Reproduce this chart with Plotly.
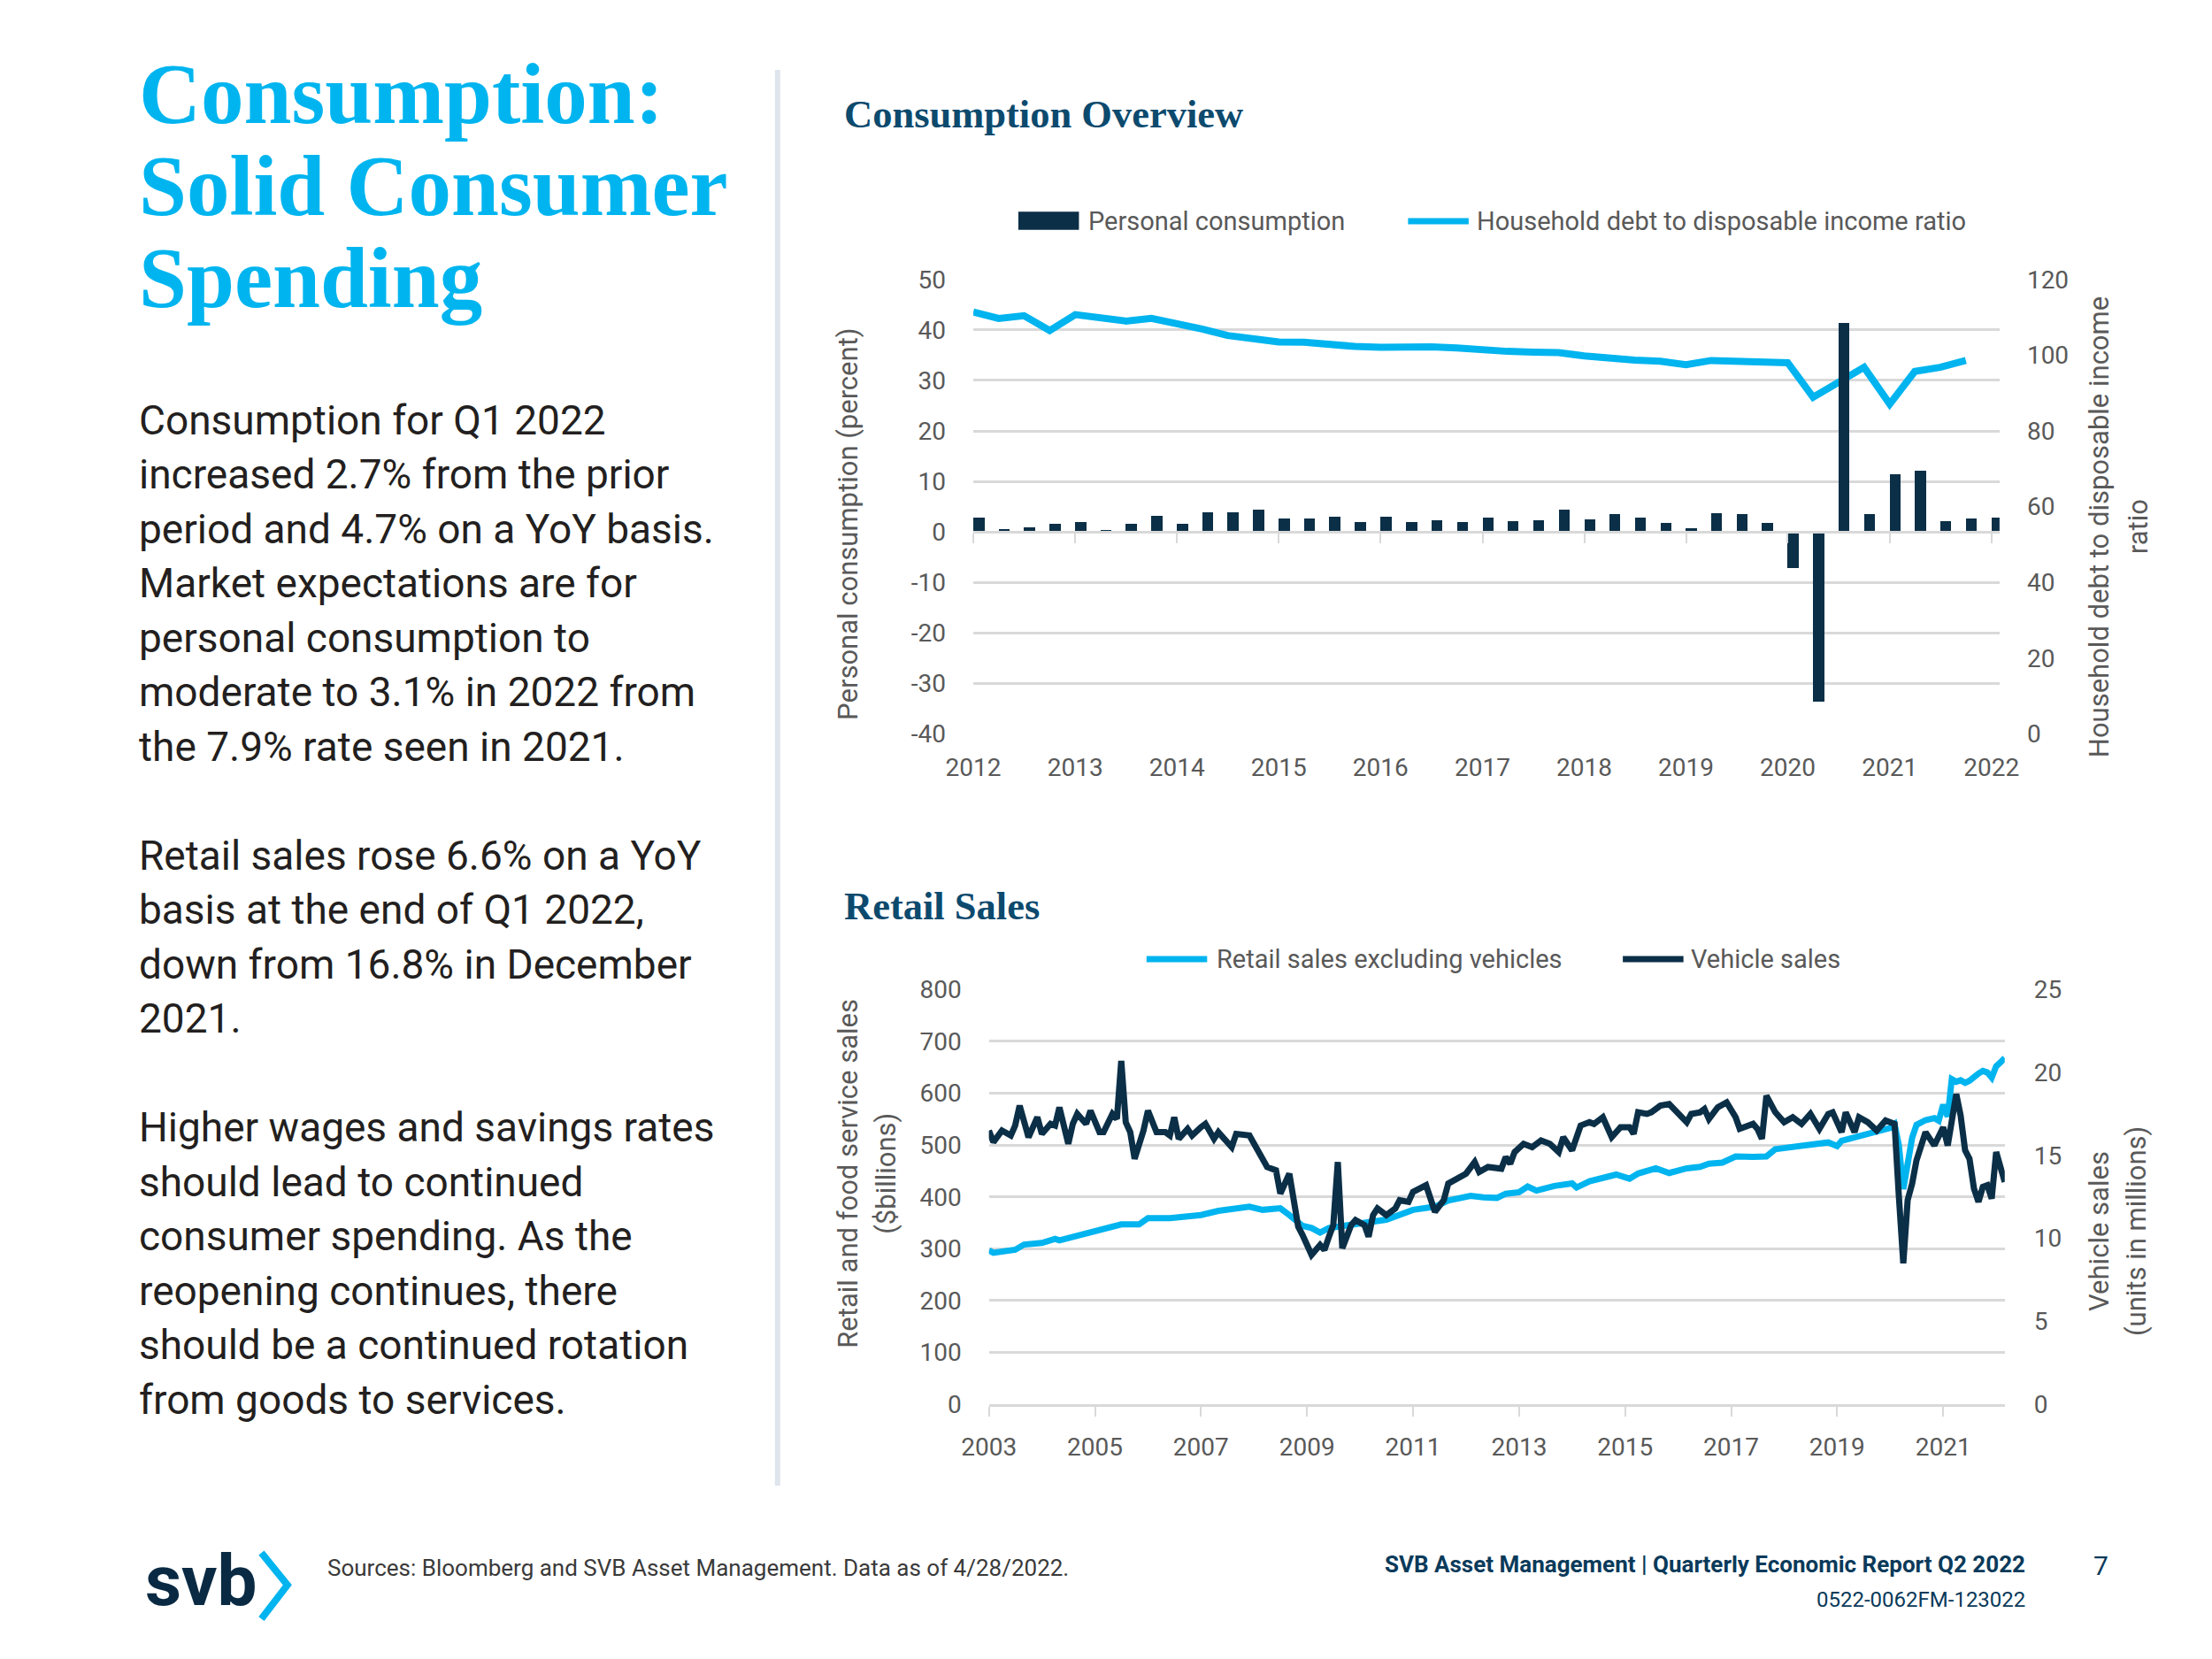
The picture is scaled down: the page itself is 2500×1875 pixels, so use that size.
import plotly.graph_objects as go

W, H = 2500, 1875
OFF = 8  # page body margin in the rendered html
def px(x): return (x - OFF) / W
def py(y): return 1 - (y - OFF) / H

NAVY = "#0b2f47"
CYAN = "#00b4ef"
TITLE_NAVY = "#0c4a6e"
GRID = "#d9d9d9"
TICK = "#595959"
FONT = "Roboto"
SERIF = "Liberation Serif"

# ---------------- data: Consumption Overview ----------------
quarters = ["2012-01-01","2012-04-01","2012-07-01","2012-10-01",
            "2013-01-01","2013-04-01","2013-07-01","2013-10-01",
            "2014-01-01","2014-04-01","2014-07-01","2014-10-01",
            "2015-01-01","2015-04-01","2015-07-01","2015-10-01",
            "2016-01-01","2016-04-01","2016-07-01","2016-10-01",
            "2017-01-01","2017-04-01","2017-07-01","2017-10-01",
            "2018-01-01","2018-04-01","2018-07-01","2018-10-01",
            "2019-01-01","2019-04-01","2019-07-01","2019-10-01",
            "2020-01-01","2020-04-01","2020-07-01","2020-10-01",
            "2021-01-01","2021-04-01","2021-07-01","2021-10-01",
            "2022-01-01"]
personal_consumption = [2.9, 0.6, 0.9, 1.6, 2.0, 0.5, 1.6, 3.2, 1.6, 3.9, 3.9, 4.5,
                        2.7, 2.7, 3.1, 2.0, 3.0, 2.0, 2.4, 2.0, 2.9, 2.1, 2.4, 4.4,
                        2.6, 3.6, 2.9, 1.9, 0.7, 3.8, 3.5, 1.9, -7.1, -33.5, 41.5, 3.6,
                        11.5, 12.2, 2.2, 2.7, 2.9]
debt_ratio = [111.4, 109.7, 110.4, 106.5, 110.7, 109.9, 109.0, 109.7, 108.4, 106.9,
              105.2, 104.2, 103.5, 103.4, 102.8, 102.3, 102.1, 102.3, 102.2, 101.9,
              101.3, 101.0, 100.8, 100.7, 99.8, 99.1, 98.7, 98.4, 97.5, 98.6,
              98.4, 98.2, 98.0, 88.9, 93.0, 96.8, 87.1, 95.7, 96.8, 98.6]
debt_quarters = quarters[:len(debt_ratio)]
pc_ticks = [-40, -30, -20, -10, 0, 10, 20, 30, 40, 50]
pc_ticktext = ["-40", "-30", "-20", "-10", "0", "10", "20", "30", "40", "50"]
debt_ticks = [0, 20, 40, 60, 80, 100, 120]

# ---------------- data: Retail Sales ----------------
retail_dates = ["2003-01","2003-02","2003-07","2003-09",
                "2004-01","2004-04","2004-05","2004-09",
                "2005-01","2005-05","2005-07","2005-11",
                "2006-01","2006-06","2006-10",
                "2007-01","2007-05","2007-10","2007-12",
                "2008-03","2008-07","2008-09","2008-12",
                "2009-02","2009-04","2009-06","2009-10",
                "2010-02","2010-06","2010-07",
                "2011-01","2011-06","2011-09",
                "2012-02","2012-05","2012-08","2012-10",
                "2013-01","2013-03","2013-05","2013-09",
                "2014-01","2014-02","2014-05","2014-11",
                "2015-02","2015-04","2015-08","2015-11",
                "2016-03","2016-06","2016-08","2016-11",
                "2017-02","2017-06","2017-09","2017-11",
                "2018-03","2018-07","2018-11",
                "2019-01","2019-02","2019-06","2019-10",
                "2020-01","2020-02","2020-03","2020-04","2020-05","2020-06","2020-07","2020-09","2020-11","2020-12",
                "2021-01","2021-02","2021-03","2021-04","2021-05","2021-06","2021-07","2021-08","2021-09","2021-10","2021-11","2021-12",
                "2022-01","2022-02","2022-03"]
retail_sales = [297, 292, 298, 308,
                311, 319, 316, 325,
                333, 340, 347, 347,
                359, 359, 362,
                365, 373, 378, 381,
                375, 378, 365, 344,
                340, 331, 340, 345,
                350, 353, 356,
                375, 381, 393,
                402, 399, 398, 406,
                409, 420, 412, 421,
                426, 418, 430, 443,
                435, 445, 455, 446,
                455, 458, 464, 466,
                478, 477, 478, 492,
                497, 502, 505,
                498, 508, 517, 526,
                533, 540, 500, 415, 470, 514, 539, 548, 552, 547,
                578, 555, 627, 622, 625, 620, 624, 632, 638, 643, 640, 630,
                652, 660, 668]

vehicle_dates = ["2003-01","2003-02","2003-04","2003-06","2003-07","2003-08","2003-10","2003-12",
                 "2004-01","2004-03","2004-04","2004-05","2004-07","2004-08","2004-09","2004-11","2004-12",
                 "2005-02","2005-03","2005-04","2005-05","2005-06","2005-07","2005-08","2005-09","2005-10","2005-12",
                 "2006-01","2006-03","2006-05","2006-06","2006-07","2006-08","2006-10","2006-11",
                 "2007-01","2007-02","2007-04","2007-05","2007-08","2007-09","2007-12",
                 "2008-02","2008-04","2008-06","2008-07","2008-09","2008-11","2008-12",
                 "2009-02","2009-04","2009-05","2009-06","2009-07","2009-08","2009-09","2009-11","2009-12",
                 "2010-02","2010-03","2010-04","2010-05","2010-07","2010-09","2010-10","2010-12",
                 "2011-01","2011-04","2011-06","2011-08","2011-09","2011-11",
                 "2012-01","2012-03","2012-04","2012-06","2012-09","2012-10","2012-11","2012-12",
                 "2013-02","2013-04","2013-06","2013-08","2013-10","2013-11",
                 "2014-01","2014-03","2014-05","2014-06","2014-08","2014-10","2014-12",
                 "2015-02","2015-03","2015-04","2015-06","2015-07","2015-09","2015-11",
                 "2016-01","2016-03","2016-04","2016-06","2016-07","2016-08","2016-10","2016-12",
                 "2017-02","2017-03","2017-06","2017-07","2017-08","2017-09","2017-11",
                 "2018-01","2018-03","2018-05","2018-07","2018-09","2018-11","2018-12",
                 "2019-02","2019-03","2019-05","2019-06","2019-08","2019-10","2019-12",
                 "2020-02","2020-03","2020-04","2020-05","2020-06","2020-07","2020-09","2020-11",
                 "2021-01","2021-02","2021-03","2021-04","2021-05","2021-06","2021-07","2021-08","2021-09","2021-10","2021-11","2021-12",
                 "2022-01","2022-02","2022-03"]
vehicle_sales = [16.5, 15.8, 16.5, 16.2, 16.8, 18.0, 16.1, 17.3,
                 16.3, 16.9, 16.8, 17.9, 15.7, 16.9, 17.5, 16.9, 17.7,
                 16.4, 16.4, 17.0, 17.5, 17.2, 20.7, 17.0, 16.4, 14.8, 16.5,
                 17.7, 16.4, 16.4, 16.2, 17.3, 16.0, 16.6, 16.2,
                 16.7, 16.9, 16.0, 16.4, 15.5, 16.3, 16.2,
                 15.3, 14.3, 14.1, 12.7, 13.9, 10.7, 10.2,
                 9.0, 9.6, 9.3, 10.1, 10.8, 14.6, 9.4, 10.8, 11.1,
                 10.8, 10.1, 11.4, 11.8, 11.4, 11.8, 12.3, 12.2,
                 12.8, 13.2, 11.6, 12.3, 13.3, 13.6,
                 13.9, 14.6, 14.0, 14.3, 14.2, 14.9, 14.5, 15.2,
                 15.7, 15.5, 15.9, 15.7, 15.2, 16.1,
                 15.3, 16.8, 17.0, 16.9, 17.3, 16.1, 16.7,
                 16.7, 16.3, 17.6, 17.5, 17.6, 18.0, 18.1,
                 17.6, 17.0, 17.5, 17.6, 17.8, 17.2, 17.9, 18.2,
                 17.3, 16.6, 16.9, 16.6, 16.0, 18.6, 17.6,
                 17.0, 17.3, 16.9, 17.5, 16.6, 17.5, 17.6,
                 16.4, 17.6, 16.4, 17.3, 17.0, 16.5, 17.1,
                 16.9, 12.6, 8.5, 12.3, 13.3, 14.7, 16.4, 15.6,
                 16.7, 15.6, 17.2, 18.7, 17.4, 15.3, 14.8, 13.0, 12.2, 13.1, 13.2, 12.4,
                 15.2, 14.2, 13.4]
retail_ticks = [0, 100, 200, 300, 400, 500, 600, 700, 800]
vehicle_ticks = [0, 5, 10, 15, 20, 25]

assert len(retail_dates) == len(retail_sales)
assert len(vehicle_dates) == len(vehicle_sales)
assert len(quarters) == len(personal_consumption)

# ---------------- layout geometry (pixels in the page) ----------------
TOP_X = (1092, 2277)
TOP_Y = (305, 828)      # top edge, bottom edge
BOT_X = (1110, 2283)
BOT_Y = (1122, 1599)

top_xdom = [px(TOP_X[0]), px(TOP_X[1])]
top_ydom = [py(TOP_Y[1]), py(TOP_Y[0])]
bot_xdom = [px(BOT_X[0]), px(BOT_X[1])]
bot_ydom = [py(BOT_Y[1]), py(BOT_Y[0])]
zero_pos = top_ydom[0] + (0 - pc_ticks[0]) / (pc_ticks[-1] - pc_ticks[0]) * (top_ydom[1] - top_ydom[0])

BAR_WIDTH_MS = 40 * 86400000

fig = go.Figure()

# Top chart: debt ratio on primary (right) axis, bars on overlay (left) so bars render above the line
fig.add_trace(go.Scatter(x=debt_quarters, y=debt_ratio, mode="lines",
                         name="Household debt to disposable income ratio",
                         line=dict(color=CYAN, width=8), xaxis="x", yaxis="y",
                         showlegend=False, hoverinfo="skip"))
fig.add_trace(go.Bar(x=quarters, y=personal_consumption, name="Personal consumption",
                     marker=dict(color=NAVY, line=dict(width=0)),
                     width=BAR_WIDTH_MS, offset=0, xaxis="x", yaxis="y2",
                     showlegend=False, hoverinfo="skip"))
# helper (empty) trace so the zero-line tick axis is drawn
fig.add_trace(go.Scatter(x=[None], y=[None], xaxis="x3", yaxis="y2", showlegend=False,
                         hoverinfo="skip"))

# Bottom chart
fig.add_trace(go.Scatter(x=retail_dates, y=retail_sales, mode="lines",
                         name="Retail sales excluding vehicles",
                         line=dict(color=CYAN, width=7), xaxis="x2", yaxis="y3",
                         showlegend=False, hoverinfo="skip"))
fig.add_trace(go.Scatter(x=vehicle_dates, y=vehicle_sales, mode="lines",
                         name="Vehicle sales",
                         line=dict(color=NAVY, width=7), xaxis="x2", yaxis="y4",
                         showlegend=False, hoverinfo="skip"))

tickfont = dict(family=FONT, size=28, color=TICK)

fig.update_layout(
    width=W, height=H,
    margin=dict(l=0, r=0, t=0, b=0),
    paper_bgcolor="white", plot_bgcolor="rgba(0,0,0,0)",
    bargap=0,
    font=dict(family=FONT, color=TICK),
    xaxis=dict(domain=top_xdom, anchor="y", type="date",
               range=["2012-01-01", "2022-01-30"], tick0="2012-01-01", dtick="M12",
               tickformat="%Y", showgrid=False, zeroline=False, showline=False,
               ticks="", tickfont=tickfont, ticklabelstandoff=18),
    xaxis3=dict(overlaying="x", anchor="free", position=zero_pos, type="date",
                range=["2012-01-01", "2022-01-30"], tick0="2012-01-01", dtick="M12",
                showgrid=False, zeroline=False, showline=True, linecolor=GRID, linewidth=3,
                ticks="outside", ticklen=11, tickwidth=2, tickcolor=GRID,
                showticklabels=False),
    yaxis=dict(domain=top_ydom, anchor="x", side="right", range=[0, 120],
               tickvals=debt_ticks, showgrid=False, zeroline=False, showline=False,
               ticks="", tickfont=tickfont, ticklabelstandoff=30),
    yaxis2=dict(overlaying="y", anchor="x", side="left", range=[-40, 50],
                tickvals=pc_ticks, ticktext=pc_ticktext, showgrid=True,
                gridcolor=GRID, gridwidth=3, zeroline=False, showline=False,
                ticks="", tickfont=tickfont, ticklabelstandoff=30),
    xaxis2=dict(domain=bot_xdom, anchor="y3", type="date",
                range=["2003-01-01", "2022-03-01"], tick0="2003-01-01", dtick="M24",
                tickformat="%Y", showgrid=False, zeroline=False, showline=True,
                linecolor=GRID, linewidth=3, ticks="outside", ticklen=11, tickwidth=2,
                tickcolor=GRID, tickfont=tickfont, ticklabelstandoff=10),
    yaxis3=dict(domain=bot_ydom, anchor="x2", side="left", range=[0, 800],
                tickvals=retail_ticks, showgrid=True, gridcolor=GRID, gridwidth=3,
                zeroline=False, showline=False, ticks="", tickfont=tickfont,
                ticklabelstandoff=30),
    yaxis4=dict(overlaying="y3", anchor="x2", side="right", range=[0, 25],
                tickvals=vehicle_ticks, showgrid=False, zeroline=False, showline=False,
                ticks="", tickfont=tickfont, ticklabelstandoff=32),
)

ann = []
def text(x, y, s, size, color, family=FONT, xanchor="left", bold=False, angle=0):
    ann.append(dict(xref="paper", yref="paper", x=px(x), y=py(y), text=s,
                    showarrow=False, xanchor=xanchor, yanchor="middle",
                    textangle=angle,
                    font=dict(family=family, size=size, color=color,
                              weight="bold" if bold else "normal")))

# Page title
TITLE_BLUE = "#00b5ef"
for s, yc in [("Consumption:", 92), ("Solid Consumer", 198), ("Spending", 304)]:
    text(127, yc, s, 97, TITLE_BLUE, family=SERIF, bold=True)

# Body text
body = ["Consumption for Q1 2022",
        "increased 2.7% from the prior",
        "period and 4.7% on a YoY basis.",
        "Market expectations are for",
        "personal consumption to",
        "moderate to 3.1% in 2022 from",
        "the 7.9% rate seen in 2021.",
        "",
        "Retail sales rose 6.6% on a YoY",
        "basis at the end of Q1 2022,",
        "down from 16.8% in December",
        "2021.",
        "",
        "Higher wages and savings rates",
        "should lead to continued",
        "consumer spending. As the",
        "reopening continues, there",
        "should be a continued rotation",
        "from goods to services."]
for i, s in enumerate(body):
    if s:
        text(127, 467 + i * 62.6, s, 46, "#231f20")

# Chart titles
text(941, 115, "Consumption Overview", 44.5, TITLE_NAVY, family=SERIF, bold=True)
text(941, 1026, "Retail Sales", 44.5, TITLE_NAVY, family=SERIF, bold=True)

# Legends (custom swatches)
LEG = 29
text(1223, 238, "Personal consumption", LEG, TICK)
text(1671, 238, "Household debt to disposable income ratio", LEG, TICK)
text(1371, 1087, "Retail sales excluding vehicles", LEG, TICK)
text(1918, 1087, "Vehicle sales", LEG, TICK)

# Axis titles
text(948, 587, "Personal consumption (percent)", 31, TICK, xanchor="center", angle=-90)
text(2392, 590, "Household debt to disposable income", 31, TICK, xanchor="center", angle=-90)
text(2437, 590, "ratio", 31, TICK, xanchor="center", angle=-90)
text(948, 1334, "Retail and food service sales", 31, TICK, xanchor="center", angle=-90)
text(992, 1334, "($billions)", 31, TICK, xanchor="center", angle=-90)
text(2392, 1400, "Vehicle sales", 31, TICK, xanchor="center", angle=-90)
text(2435, 1400, "(units in millions)", 31, TICK, xanchor="center", angle=-90)

# Footer
text(134, 1803, "svb", 80, "#0a2a43", bold=True)
text(344, 1787, "Sources: Bloomberg and SVB Asset Management. Data as of 4/28/2022.", 26, "#3a3a3a")
text(2309, 1783, "SVB Asset Management | Quarterly Economic Report Q2 2022", 26, "#0a3a5a",
     xanchor="right", bold=True)
text(2394, 1785, "7", 30, "#0a3a5a", xanchor="center")
text(2309, 1824, "0522-0062FM-123022", 24, "#0a3a5a", xanchor="right")

shapes = [
    # separator
    dict(type="line", xref="paper", yref="paper", x0=px(866), x1=px(866), y0=py(64), y1=py(1693),
         line=dict(color="#dfe5ec", width=6)),
    # legend swatches
    dict(type="rect", xref="paper", yref="paper", x0=px(1144), x1=px(1214), y0=py(248), y1=py(227),
         fillcolor=NAVY, line=dict(width=0)),
    dict(type="line", xref="paper", yref="paper", x0=px(1594), x1=px(1664), y0=py(238), y1=py(238),
         line=dict(color=CYAN, width=7)),
    dict(type="line", xref="paper", yref="paper", x0=px(1292), x1=px(1362), y0=py(1087), y1=py(1087),
         line=dict(color=CYAN, width=7)),
    dict(type="line", xref="paper", yref="paper", x0=px(1842), x1=px(1912), y0=py(1087), y1=py(1087),
         line=dict(color=NAVY, width=7)),
    # svb chevron
    dict(type="path", xref="paper", yref="paper",
         path=f"M {px(270)} {py(1770)} L {px(300)} {py(1807)} L {px(270)} {py(1846)}",
         line=dict(color=CYAN, width=8)),
]
fig.update_layout(annotations=ann, shapes=shapes)

fig.write_html("out.html")
